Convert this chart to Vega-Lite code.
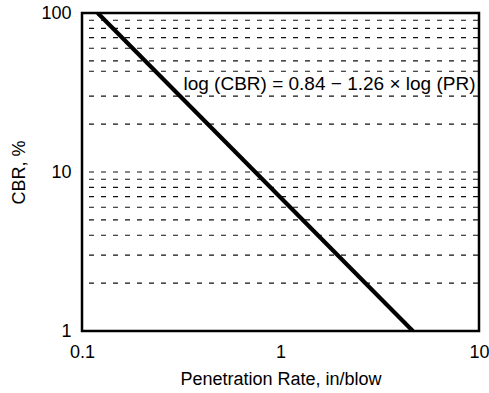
{
  "$schema": "https://vega.github.io/schema/vega-lite/v6.json",
  "autosize": {"type": "none"},
  "width": 397,
  "height": 318,
  "padding": {"left": 82, "top": 13, "right": 10, "bottom": 62},
  "background": "white",
  "config": {
    "view": {"stroke": "#000", "strokeWidth": 2.5},
    "font": "Liberation Sans",
    "axis": {"labelFont": "Liberation Sans", "titleFont": "Liberation Sans", "labelColor": "#000", "titleColor": "#000"}
  },
  "datasets": {
    "line": [{"pr": 0.12, "cbr": 100}, {"pr": 4.64, "cbr": 1}],
    "grid": [{"v": 2}, {"v": 3}, {"v": 4}, {"v": 5}, {"v": 6}, {"v": 7}, {"v": 8}, {"v": 9}, {"v": 10}, {"v": 20}, {"v": 30}, {"v": 43}, {"v": 50}, {"v": 60}, {"v": 70}, {"v": 80}, {"v": 90}],
    "note": [{"pr": 9.6, "cbr": 35.8, "label": "log (CBR) = 0.84 − 1.26 × log (PR)"}]
  },
  "layer": [
    {
      "data": {"name": "grid"},
      "mark": {"type": "rule", "stroke": "#111", "strokeWidth": 1.1, "strokeDash": [5, 7], "strokeDashOffset": -1},
      "encoding": {
        "y": {"field": "v", "type": "quantitative", "scale": {"type": "log", "domain": [1, 100], "nice": false}}
      }
    },
    {
      "data": {"name": "line"},
      "mark": {"type": "line", "stroke": "#000", "strokeWidth": 4.2, "clip": true},
      "encoding": {
        "x": {"field": "pr", "type": "quantitative",
          "scale": {"type": "log", "domain": [0.1, 10], "nice": false},
          "axis": {"values": [0.1, 1, 10], "format": "~g", "grid": false, "ticks": false, "domain": false, "labelFontSize": 18, "labelPadding": 12, "title": "Penetration Rate, in/blow", "titleFontSize": 18, "titleFontWeight": "normal", "titlePadding": 9, "labelFlush": false}},
        "y": {"field": "cbr", "type": "quantitative",
          "scale": {"type": "log", "domain": [1, 100], "nice": false},
          "axis": {"values": [1, 10, 100], "format": "~g", "grid": false, "ticks": false, "domain": false, "labelFontSize": 18, "labelPadding": 11, "title": "CBR, %", "titleFontSize": 18, "titleFontWeight": "normal", "titlePadding": 12, "labelFlush": false}}
      }
    },
    {
      "data": {"name": "note"},
      "mark": {"type": "text", "align": "right", "baseline": "middle", "fontSize": 19, "font": "Liberation Sans", "color": "#000"},
      "encoding": {
        "x": {"field": "pr", "type": "quantitative", "scale": {"type": "log", "domain": [0.1, 10], "nice": false}},
        "y": {"field": "cbr", "type": "quantitative", "scale": {"type": "log", "domain": [1, 100], "nice": false}},
        "text": {"field": "label"}
      }
    }
  ]
}
